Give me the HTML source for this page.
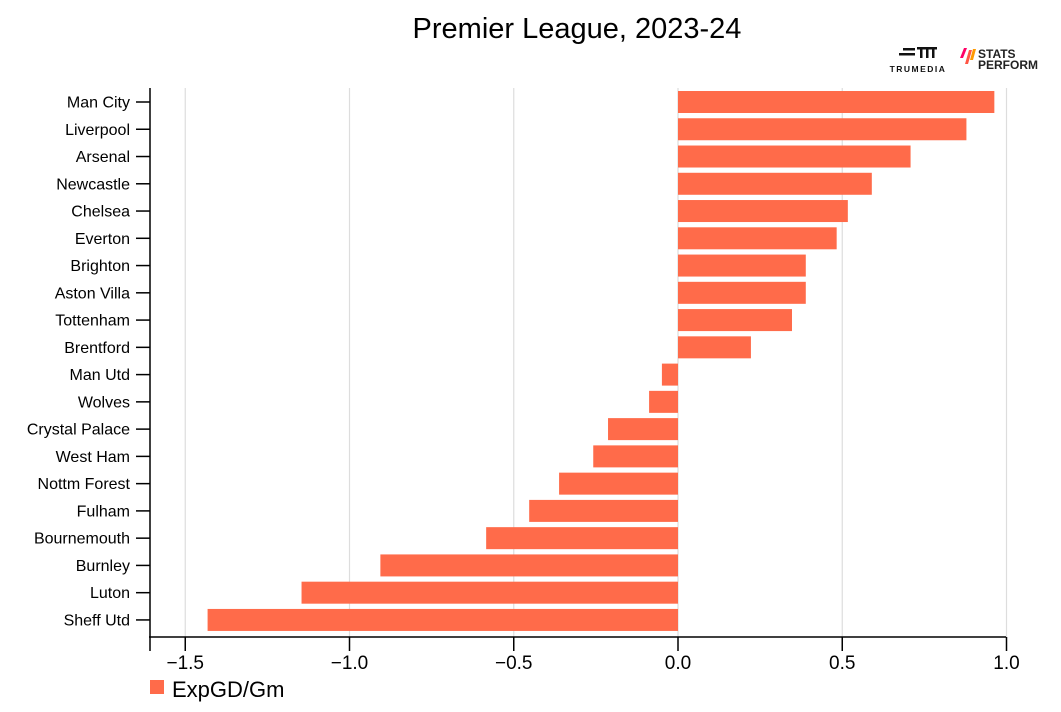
<!DOCTYPE html>
<html><head><meta charset="utf-8"><style>
body{margin:0;background:#fff;width:1061px;height:707px;overflow:hidden;font-family:"Liberation Sans",sans-serif}
</style></head><body>
<svg id="c" width="1061" height="707">
<text x="577" y="38" text-anchor="middle" font-size="29" fill="#000">Premier League, 2023-24</text>
<g>
<rect x="903" y="48" width="12" height="2.5" fill="#111"/><rect x="899" y="53" width="16" height="2.5" fill="#111"/>
<rect x="917" y="47" width="20" height="2.5" fill="#111"/><rect x="920" y="47" width="2.5" height="11" fill="#111"/><rect x="926" y="47" width="2.5" height="11" fill="#111"/><rect x="932" y="47" width="2.5" height="11" fill="#111"/>
<text x="918" y="72" text-anchor="middle" font-size="8.5" font-weight="bold" letter-spacing="1.5" fill="#111">TRUMEDIA</text>
</g>
<g>
<polygon points="960,58 963,58 967,48 964,48" fill="#f06"/><polygon points="965,64 968,64 972,50 969,50" fill="#f54"/><polygon points="970,60 973,60 976,49 973,49" fill="#f90"/>
<text x="978" y="58" font-size="12" font-weight="bold" fill="#222">STATS</text>
<text x="978" y="69" font-size="12" font-weight="bold" fill="#222">PERFORM</text>
</g>
<g id="grid"></g><g id="bars"></g><g id="axes"></g>
<rect x="150" y="680" width="14" height="14" fill="#ff6b4a"/>
<text x="172" y="697" font-size="22" fill="#000">ExpGD/Gm</text>
</svg>
<script>
const teams=["Man City","Liverpool","Arsenal","Newcastle","Chelsea","Everton","Brighton","Aston Villa","Tottenham","Brentford","Man Utd","Wolves","Crystal Palace","West Ham","Nottm Forest","Fulham","Bournemouth","Burnley","Luton","Sheff Utd"];
const values=[0.963,0.878,0.708,0.59,0.517,0.483,0.389,0.389,0.347,0.222,-0.049,-0.088,-0.213,-0.258,-0.362,-0.453,-0.584,-0.906,-1.146,-1.432];
const ticks=[-1.5,-1.0,-0.5,0.0,0.5,1.0];
const tickLabels=["\u22121.5","\u22121.0","\u22120.5","0.0","0.5","1.0"];
const NS="http://www.w3.org/2000/svg";
const x=v=>678+v*328.5;
const y=i=>102+i*27.26;
function mk(t,a,p){const e=document.createElementNS(NS,t);for(const k in a)e.setAttribute(k,a[k]);p.appendChild(e);return e;}
const G=document.getElementById('grid'),B=document.getElementById('bars'),A=document.getElementById('axes');
ticks.forEach((t,i)=>{
 const g=mk('line',{x1:x(t),x2:x(t),y1:88,y2:637,stroke:'#ddd','stroke-width':1.2},G);
 
 
 mk('line',{x1:x(t),x2:x(t),y1:637,y2:651,stroke:'#000','stroke-width':1.5},A);
 const l=mk('text',{x:x(t),y:669,'text-anchor':'middle','font-size':19,fill:'#000'},A);
 l.textContent=tickLabels[i];
 
 
});
mk('line',{x1:150,x2:150,y1:637,y2:651,stroke:'#000','stroke-width':1.5},A);
mk('line',{x1:150,x2:150,y1:88,y2:637,stroke:'#000','stroke-width':1.5},A);
mk('line',{x1:149,x2:1006,y1:637,y2:637,stroke:'#000','stroke-width':1.5},A);
teams.forEach((t,i)=>{
 const v=values[i];
 const r=mk('rect',{x:Math.min(x(0),x(v)),y:y(i)-11,width:Math.abs(x(v)-x(0)),height:22,fill:'#ff6b4a'},B);
 
 
 mk('line',{x1:136,x2:150,y1:y(i),y2:y(i),stroke:'#000','stroke-width':1.5},A);
 const l=mk('text',{x:130,y:y(i)+5.5,'text-anchor':'end','font-size':16,fill:'#000'},A);
 l.textContent=t;
 
 
});
</script>
</body></html>
